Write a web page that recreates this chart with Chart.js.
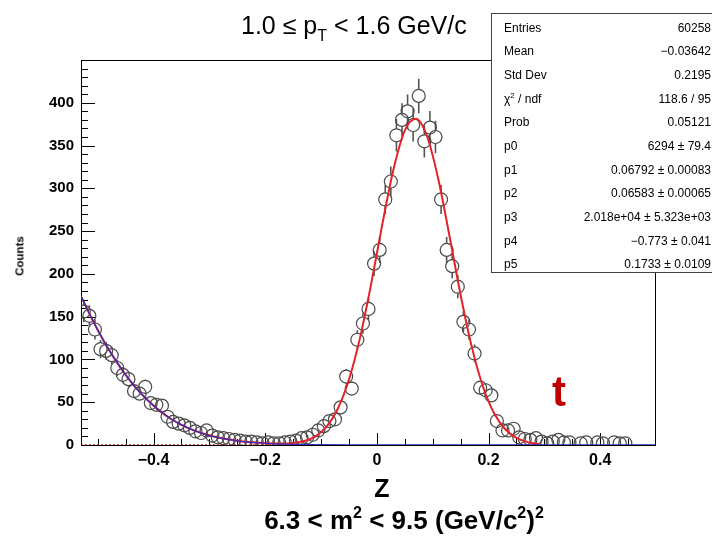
<!DOCTYPE html>
<html>
<head>
<meta charset="utf-8">
<title>Z distribution</title>
<script src="https://cdn.jsdelivr.net/npm/chart.js@4.4.0/dist/chart.umd.min.js"></script>
<style>
  body { margin: 0; background: #fff; }
  #wrap { position: relative; width: 712px; height: 540px; overflow: hidden;
          font-family: "Liberation Sans", Arial, sans-serif; color: #000; }
  #wrap canvas { position: absolute; left: 0; top: 0; }
  .lbl { position: absolute; white-space: nowrap; line-height: 1.15; }
  sup, sub { line-height: 0; }
  #title { left: 241px; top: 11px; font-size: 25px; }
  #title sub { font-size: 16px; vertical-align: -7px; }
  #ytitle { left: 20px; top: 256px; font-size: 11.5px; font-weight: bold;
            transform: translate(-50%, -50%) rotate(-90deg); }
  #xtitle { left: 382px; top: 474px; font-size: 25px; font-weight: bold; transform: translateX(-50%); }
  #sub { left: 404px; top: 506px; font-size: 26px; font-weight: bold; transform: translateX(-50%); }
  #sub sup { font-size: 16px; vertical-align: 11px; }
  #tmark { left: 552px; top: 368px; font-size: 42px; font-weight: bold; color: #c00000; }
  #stats { position: absolute; left: 491px; top: 13px; width: 230px; height: 258px;
           border: 1px solid #444; background: #fff; font-size: 12px; }
  #stats .row { position: absolute; left: 12px; width: 207px; height: 20px; line-height: 20px; }
  #stats .row span.v { position: absolute; right: 0; }
  #stats sup { font-size: 8px; vertical-align: 5px; }
</style>
</head>
<body>
<div id="wrap">
  <canvas id="zChart" width="712" height="540"></canvas>
  <div class="lbl" id="title">1.0 &le; p<sub>T</sub> &lt; 1.6 GeV/c</div>
  <div class="lbl" id="ytitle">Counts</div>
  <div class="lbl" id="xtitle">Z</div>
  <div class="lbl" id="sub">6.3 &lt; m<sup>2</sup> &lt; 9.5 (GeV/c<sup>2</sup>)<sup>2</sup></div>
  <div class="lbl" id="tmark">t</div>
  <div id="stats"></div>
</div>
<script>
// Histogram bins (centres) and counts; null = empty bin
const binCenters = [
  -0.525, -0.515, -0.505, -0.495, -0.485, -0.475, -0.465, -0.455, -0.445, -0.435,
  -0.425, -0.415, -0.405, -0.395, -0.385, -0.375, -0.365, -0.355, -0.345, -0.335,
  -0.325, -0.315, -0.305, -0.295, -0.285, -0.275, -0.265, -0.255, -0.245, -0.235,
  -0.225, -0.215, -0.205, -0.195, -0.185, -0.175, -0.165, -0.155, -0.145, -0.135,
  -0.125, -0.115, -0.105, -0.095, -0.085, -0.075, -0.065, -0.055, -0.045, -0.035,
  -0.025, -0.015, -0.005, 0.005, 0.015, 0.025, 0.035, 0.045, 0.055, 0.065,
  0.075, 0.085, 0.095, 0.105, 0.115, 0.125, 0.135, 0.145, 0.155, 0.165,
  0.175, 0.185, 0.195, 0.205, 0.215, 0.225, 0.235, 0.245, 0.255, 0.265,
  0.275, 0.285, 0.295, 0.305, 0.315, 0.325, 0.335, 0.345, 0.355, 0.365,
  0.375, 0.385, 0.395, 0.405, 0.415, 0.425, 0.435, 0.445
];
const counts = [
  156, 151, 135, 112, 110, 105, 90, 82, 77, 63,
  60, 68, 49, 47, 46, 33, 27, 25, 23, 20,
  16, 14, 17, 11, 9, 8, 7, 6, 5, 4,
  4, 3, 2, 3, 2, 2, 3, 4, 5, 8,
  9, 12, 17, 22, 28, 30, 44, 80, 66, 123,
  142, 159, 212, 228, 287, 308, 362, 380, 390, 374,
  408, 355, 371, 360, 287, 228, 209, 185, 144, 135,
  107, 67, 64, 58, 28, 17, 17, 19, 9, 7,
  6, 8, 4, 2, 4, 6, 3, 3, null, 2,
  3, null, 3, 2, null, 3, 2, 2
];

// Total fit curve (signal + background), red
const fitX = [
  -0.53, -0.51, -0.49, -0.47, -0.45, -0.43, -0.41, -0.39, -0.37, -0.35,
  -0.33, -0.31, -0.29, -0.27, -0.25, -0.23, -0.21, -0.19, -0.17, -0.15,
  -0.13, -0.11, -0.09, -0.07, -0.05, -0.03, -0.01, 0.01, 0.03, 0.05,
  0.07, 0.09, 0.11, 0.13, 0.15, 0.17, 0.19, 0.21, 0.23, 0.25,
  0.27, 0.29
];
const fitY = [
  174, 147, 122.5, 101, 82, 65.5, 52, 40.5, 31, 23.6,
  17.7, 13.1, 9.6, 6.9, 4.9, 3.4, 2.5, 1.8, 1.7, 2.3,
  4.6, 10.1, 21.5, 42.4, 76.5, 125.8, 188.9, 258.8, 322.9, 367.5,
  381.2, 360.6, 311, 244.6, 175.4, 114.7, 68.4, 37.1, 18.4, 8.3,
  3.4, 1.3
];

// Background component, blue
const bgX = [
  -0.53, -0.51, -0.49, -0.47, -0.45, -0.43, -0.41, -0.39, -0.37, -0.35,
  -0.33, -0.31, -0.29, -0.27, -0.25, -0.23, -0.21, -0.19, -0.17, -0.15,
  -0.13, -0.11, -0.05, 0.5
];
const bgY = [
  174, 147, 122.5, 101, 82, 65.5, 52, 40.5, 31, 23.6,
  17.7, 13.1, 9.6, 6.9, 4.9, 3.4, 2.4, 1.6, 1.1, 0.7,
  0.46, 0.3, 0.06, 0
];

// Signal component where it sits on zero (dotted red)
const sigX = [-0.53, -0.15];
const sigY = [0, 0];

const xTicks = [-0.4, -0.2, 0, 0.2, 0.4];
const yTicks = [0, 50, 100, 150, 200, 250, 300, 350, 400];

const statNames = ['Entries', 'Mean', 'Std Dev', '&chi;<sup>2</sup> / ndf', 'Prob',
                   'p0', 'p1', 'p2', 'p3', 'p4', 'p5'];
const statValues = ['60258', '\u22120.03642', '0.2195', '118.6 / 95', '0.05121',
                    '6294 \u00b1 79.4', '0.06792 \u00b1 0.00083', '0.06583 \u00b1 0.00065',
                    '2.018e+04 \u00b1 5.323e+03', '\u22120.773 \u00b1 0.041', '0.1733 \u00b1 0.0109'];

// stats box
const statsBox = document.getElementById('stats');
statNames.forEach((name, i) => {
    const row = document.createElement('div');
    row.className = 'row';
    row.style.top = (3.7 + 23.66 * i) + 'px';
    row.innerHTML = name + '<span class="v">' + statValues[i] + '</span>';
    statsBox.appendChild(row);
});

const toXY = (xs, ys) => xs.map((x, i) => ({ x: x, y: ys[i] }));
const histPoints = binCenters.map((x, i) => ({ x: x, y: counts[i] })).filter(p => p.y !== null);

const MARKER_R = 6.5;

// frame, inside ticks and error bars, ROOT style
const rootFrame = {
    id: 'rootFrame',
    beforeDatasetsDraw(chart) {
        const { ctx, chartArea: a, scales } = chart;
        const xs = scales.x, ys = scales.y;
        ctx.save();
        ctx.strokeStyle = '#000';
        ctx.lineWidth = 1;
        ctx.strokeRect(a.left + 0.5, a.top + 0.5, a.right - a.left - 1, a.bottom - a.top);

        ctx.beginPath();
        for (let k = -10; k <= 10; k++) {
            const px = Math.round(xs.getPixelForValue(k * 0.05)) + 0.5;
            if (px < a.left || px > a.right) continue;
            const len = k % 4 === 0 ? 12 : 6;
            ctx.moveTo(px, a.bottom);
            ctx.lineTo(px, a.bottom - len);
        }
        for (let k = 0; k < 45; k++) {
            const py = Math.round(ys.getPixelForValue(k * 10)) + 0.5;
            const len = k % 5 === 0 ? 14 : 7;
            ctx.moveTo(a.left, py);
            ctx.lineTo(a.left + len, py);
        }
        ctx.stroke();

        // error bars sqrt(N)
        const meta = chart.getDatasetMeta(3);
        ctx.strokeStyle = '#555';
        ctx.lineWidth = 1.6;
        ctx.beginPath();
        meta.data.forEach((el, i) => {
            const v = histPoints[i].y;
            const err = Math.sqrt(v);
            const yTop = ys.getPixelForValue(v + err);
            const yBot = ys.getPixelForValue(Math.max(v - err, 0));
            if (el.y - yTop > MARKER_R) {
                ctx.moveTo(el.x, yTop);
                ctx.lineTo(el.x, el.y - MARKER_R);
            }
            if (yBot - el.y > MARKER_R) {
                ctx.moveTo(el.x, el.y + MARKER_R);
                ctx.lineTo(el.x, yBot);
            }
        });
        ctx.stroke();
        ctx.restore();
    }
};

Chart.defaults.font.family = '"Liberation Sans", Arial, sans-serif';
Chart.defaults.color = '#000';

const ctx = document.getElementById('zChart').getContext('2d');
new Chart(ctx, {
    type: 'scatter',
    data: {
        datasets: [
            {
                label: 'background',
                data: toXY(bgX, bgY),
                showLine: true,
                borderColor: '#2f2fbf',
                borderWidth: 1.3,
                pointRadius: 0,
                cubicInterpolationMode: 'monotone',
                order: 0
            },
            {
                label: 'fit',
                data: toXY(fitX, fitY),
                showLine: true,
                borderColor: '#e3222a',
                borderWidth: 2,
                pointRadius: 0,
                cubicInterpolationMode: 'monotone',
                order: 1
            },
            {
                label: 'signal',
                data: toXY(sigX, sigY),
                showLine: true,
                borderColor: '#e3222a',
                borderWidth: 1.5,
                borderDash: [2, 2],
                pointRadius: 0,
                order: 2
            },
            {
                label: 'data',
                data: histPoints,
                pointRadius: MARKER_R,
                pointHoverRadius: MARKER_R,
                pointStyle: 'circle',
                pointBorderColor: '#4a4a4a',
                pointBackgroundColor: 'rgba(0,0,0,0)',
                pointBorderWidth: 1.2,
                order: 3
            }
        ]
    },
    options: {
        responsive: false,
        animation: false,
        layout: { padding: { top: 60, right: 56, left: 0, bottom: 0 } },
        plugins: {
            legend: { display: false },
            tooltip: { enabled: false }
        },
        scales: {
            x: {
                type: 'linear',
                min: -0.53,
                max: 0.5,
                afterFit: (s) => { s.height = 95; },
                afterBuildTicks: (s) => { s.ticks = xTicks.map(v => ({ value: v })); },
                grid: { display: false, drawTicks: false },
                border: { display: false },
                ticks: {
                    padding: 6,
                    maxRotation: 0,
                    autoSkip: false,
                    font: { size: 16, weight: 'bold' },
                    callback: (v) => v === 0 ? '0' : v.toFixed(1).replace('-', '\u2212')
                }
            },
            y: {
                min: 0,
                max: 450,
                afterFit: (s) => { s.width = 81; },
                afterBuildTicks: (s) => { s.ticks = yTicks.map(v => ({ value: v })); },
                grid: { display: false, drawTicks: false },
                border: { display: false },
                ticks: {
                    padding: 7,
                    autoSkip: false,
                    font: { size: 15, weight: 'bold' }
                }
            }
        }
    },
    plugins: [rootFrame]
});
</script>
</body>
</html>
